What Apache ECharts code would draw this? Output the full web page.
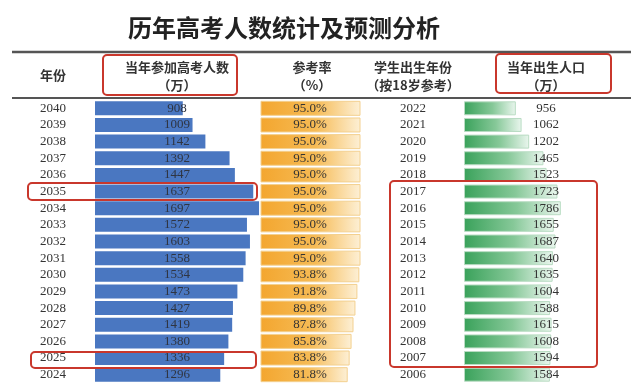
<!DOCTYPE html>
<html>
<head>
<meta charset="utf-8">
<script src="https://cdn.jsdelivr.net/npm/echarts@6/dist/echarts.min.js"></script>
<style>html,body{margin:0;padding:0;background:#fff}#c{width:640px;height:383px}</style>
</head>
<body>
<div id="c"></div>
<script>
// ---- data ----
const titleText = '历年高考人数统计及预测分析';
const years = ['2040','2039','2038','2037','2036','2035','2034','2033','2032','2031','2030','2029','2028','2027','2026','2025','2024'];
const examTakers = [908,1009,1142,1392,1447,1637,1697,1572,1603,1558,1534,1473,1427,1419,1380,1336,1296];
const examRate = [95.0,95.0,95.0,95.0,95.0,95.0,95.0,95.0,95.0,95.0,93.8,91.8,89.8,87.8,85.8,83.8,81.8];
const birthYears = ['2022','2021','2020','2019','2018','2017','2016','2015','2014','2013','2012','2011','2010','2009','2008','2007','2006'];
const births = [956,1062,1202,1465,1523,1723,1786,1655,1687,1640,1635,1604,1588,1615,1608,1594,1584];
const headers = [
  ['年份'],
  ['当年参加高考人数','（万）'],
  ['参考率','（%）'],
  ['学生出生年份','（按18岁参考）'],
  ['当年出生人口','（万）']
];

// ---- styles ----
const SERIF = '"Liberation Serif","DejaVu Serif",serif';
const CJK = '"Noto Sans CJK SC","Noto Sans",sans-serif';
const TOP = 100, H = 283, BAR_W = 14;
const RED = '#c9372c';

const chart = echarts.init(document.getElementById('c'), null, {renderer:'canvas'});

function catAxis(idx, data, show, margin){
  return {type:'category', gridIndex: idx, data: data, inverse:true,
    axisLine:{show:false}, axisTick:{show:false}, splitLine:{show:false},
    axisLabel:{show:show, interval:0, margin: margin, align:'center', color:'#333', fontFamily:SERIF, fontSize:13}};
}
function valAxis(idx, min, max){
  return {type:'value', gridIndex: idx, min:min, max:max, show:false, splitLine:{show:false}};
}

const headerX = [53, 177, 312, 413, 546];
const graphics = [];
graphics.push({type:'text', x:284, y:28, style:{text:titleText, textAlign:'center', textVerticalAlign:'middle', font:'bold 24px ' + CJK, fill:'#222'}});
// rules
graphics.push({type:'line', shape:{x1:12,y1:52,x2:631,y2:52}, style:{stroke:'#555', lineWidth:2.5}});
graphics.push({type:'line', shape:{x1:12,y1:98,x2:631,y2:98}, style:{stroke:'#555', lineWidth:2}});
headers.forEach((h,i)=>{
  if(h.length===1){
    graphics.push({type:'text', x:headerX[i], y:75, style:{text:h[0], textAlign:'center', textVerticalAlign:'middle', font:'bold 13px '+CJK, fill:'#333'}});
  } else {
    graphics.push({type:'text', x:headerX[i], y:67, style:{text:h[0], textAlign:'center', textVerticalAlign:'middle', font:'bold 13px '+CJK, fill:'#333'}});
    graphics.push({type:'text', x:headerX[i], y:85, style:{text:h[1], textAlign:'center', textVerticalAlign:'middle', font:'bold 13px '+CJK, fill:'#333'}});
  }
});
// red highlight boxes
[[103,55,134,40],[496,54,115,39],[28,183,229,17],[31,352,225,16],[390,181,207,186]].forEach(b=>{
  graphics.push({type:'rect', z:100, shape:{x:b[0],y:b[1],width:b[2],height:b[3],r:4}, style:{fill:'none', stroke:RED, lineWidth:2}});
});

const orangeGrad = () => new echarts.graphic.LinearGradient(0,0,1,0,[
  {offset:0, color:'#f3a62f'},{offset:0.55, color:'#f6bb55'},{offset:1, color:'#fdf0d6'}]);
const greenGrad = new echarts.graphic.LinearGradient(0,0,1,0,[
  {offset:0, color:'#3aa25b'},{offset:0.55, color:'#86c898'},{offset:1, color:'#eaf6ee'}]);

chart.setOption({
  animation:false,
  backgroundColor:'#ffffff',
  grid:[
    {left:95, top:TOP, width:174, height:H},
    {left:261, top:TOP, width:99, height:H},
    {left:464, top:TOP, width:97.6, height:H}
  ],
  xAxis:[valAxis(0,0,1800), valAxis(1,-7,95), valAxis(2,0,1800)],
  yAxis:[catAxis(0, years, true, 42), catAxis(1, years, false, 0), catAxis(2, birthYears, true, 51)],
  series:[
    {type:'bar', xAxisIndex:0, yAxisIndex:0, data:examTakers, barWidth:BAR_W,
      itemStyle:{color:'#4a77c1'},
      label:{show:true, position:[82,'50%'], align:'center', verticalAlign:'middle', color:'#2f3542', fontFamily:SERIF, fontSize:13}},
    {type:'custom', xAxisIndex:1, yAxisIndex:1, data: examRate.map((v,i)=>[v,i]), encode:{x:0,y:1},
      renderItem:function(params, api){
        const v = api.value(0), c = api.value(1);
        const p = api.coord([v, c]);
        const cs = params.coordSys;
        return {type:'group', children:[
          {type:'rect', shape:{x:cs.x, y:p[1]-BAR_W/2, width:p[0]-cs.x, height:BAR_W},
            style:{fill:orangeGrad(), stroke:'#f3d08f', lineWidth:1}},
          {type:'text', x:cs.x+49, y:p[1], style:{text:v.toFixed(1)+'%', textAlign:'center', textVerticalAlign:'middle', font:'13px '+SERIF, fill:'#333'}}
        ]};
      }},
    {type:'bar', xAxisIndex:2, yAxisIndex:2, data:births, barWidth:BAR_W,
      itemStyle:{color:greenGrad, borderColor:'#b9dcc3', borderWidth:1},
      label:{show:true, position:[82,'50%'], align:'center', verticalAlign:'middle', color:'#333', fontFamily:SERIF, fontSize:13}}
  ],
  graphic: graphics
});
</script>
</body>
</html>
